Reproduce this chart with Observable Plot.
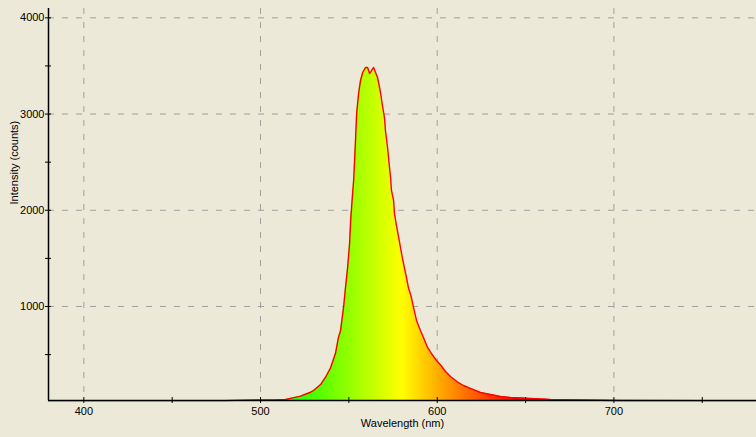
<!DOCTYPE html>
<html>
<head>
<meta charset="utf-8">
<script src="https://cdn.jsdelivr.net/npm/d3@7"></script>
<script src="https://cdn.jsdelivr.net/npm/@observablehq/plot@0.6"></script>
<style>
  html, body { margin: 0; padding: 0; background: #ECE9D8; }
  svg { display: block; }
</style>
</head>
<body>
<div id="chart"></div>
<script>
// Data
const wavelengths = [380, 400, 450, 480, 498, 508, 514.2, 517.5, 522.6, 528.3, 530.0, 534.0, 536.8, 539.6, 542.4, 544.1, 545.3, 547.0, 548.1, 549.3, 550.4, 551.0, 552.1, 552.7, 553.8, 554.4, 555.5, 556.6, 557.8, 559.5, 560.6, 561.7, 562.9, 564.0, 565.1, 566.2, 566.8, 567.9, 569.0, 570.2, 570.7, 571.9, 573.0, 573.6, 574.1, 575.3, 575.8, 576.9, 578.1, 579.8, 580.9, 582.6, 583.7, 585.4, 586.6, 588.3, 590.5, 592.2, 594.5, 596.8, 599.6, 601.9, 604.7, 607.5, 611.5, 614.9, 618.8, 624.5, 630.1, 635.8, 641.4, 652.8, 664.1, 681.1, 703.7, 750, 780];
const counts = [22, 22, 22, 22, 30, 30, 33, 47, 68, 109, 127, 189, 265, 361, 511, 678, 750, 992, 1200, 1408, 1655, 1894, 2174, 2309, 2746, 3006, 3214, 3349, 3432, 3484, 3484, 3421, 3453, 3484, 3432, 3380, 3328, 3224, 3089, 2954, 2829, 2652, 2444, 2341, 2206, 2102, 1966, 1842, 1727, 1551, 1447, 1301, 1197, 1093, 990, 854, 750, 678, 574, 511, 439, 392, 324, 272, 215, 179, 148, 106, 85, 65, 54, 44, 33, 28, 23, 22, 22];

const xMajorTicks = [400, 500, 600, 700];
const xAllTicks = [400, 450, 500, 550, 600, 650, 700, 750];
const yMajorTicks = [1000, 2000, 3000, 4000];
const yAllTicks = [500, 1000, 1500, 2000, 2500, 3000, 3500, 4000];
const xDomain = [380, 780.7];
const yDomain = [23, 4097];
const xLabel = "Wavelength (nm)";
const yLabel = "Intensity (counts)";

// Spectral colour stops (nm -> colour)
const colorStops = [[510, "#00ff00"], [580, "#ffff00"], [645, "#ff0000"]];

const data = wavelengths.map((w, i) => ({w, c: counts[i]}));

const gridStyle = {stroke: "#a0a0a0", strokeOpacity: 1, strokeWidth: 1, strokeDasharray: "6,8"};
const plain = d => String(d);

const plot = Plot.plot({
  width: 756,
  height: 437,
  marginLeft: 48,
  marginRight: 0,
  marginTop: 8,
  marginBottom: 37,
  style: {background: "#ECE9D8", fontFamily: "'Liberation Sans', Arial, sans-serif", fontSize: "11px", color: "#000"},
  x: {domain: xDomain},
  y: {domain: yDomain},
  marks: [
    Plot.gridX(xMajorTicks, gridStyle),
    Plot.gridY(yMajorTicks, gridStyle),
    Plot.areaY(data, {x: "w", y1: yDomain[0], y2: "c", fill: "url(#spectrumGrad)"}),
    Plot.lineY(data, {x: "w", y: "c", stroke: "#ff0000", strokeWidth: 1.4}),
    Plot.ruleX([xDomain[0]], {stroke: "#000", strokeWidth: 1.5}),
    Plot.ruleY([yDomain[0]], {stroke: "#000", strokeWidth: 1.5}),
    Plot.axisX(xAllTicks, {tickSize: 6, dy: -3, tickFormat: () => "", stroke: "#000", label: null}),
    Plot.axisX(xMajorTicks, {tickSize: 0, tickPadding: 7, tickFormat: plain, fill: "#000", label: null}),
    Plot.axisY(yAllTicks, {tickSize: 6, dx: 3, tickFormat: () => "", stroke: "#000", label: null}),
    Plot.axisY(yMajorTicks, {tickSize: 0, tickPadding: 4, tickFormat: plain, fill: "#000", label: null}),
    Plot.text([xLabel], {frameAnchor: "bottom", dy: 26, fill: "#000", fontSize: 11}),
    Plot.text([yLabel], {frameAnchor: "left", rotate: -90, dx: -34, fill: "#000", fontSize: 11})
  ]
});

// Horizontal spectral gradient positioned via the x scale
const xs = plot.scale("x");
const ns = "http://www.w3.org/2000/svg";
const defs = document.createElementNS(ns, "defs");
const grad = document.createElementNS(ns, "linearGradient");
grad.setAttribute("id", "spectrumGrad");
grad.setAttribute("gradientUnits", "userSpaceOnUse");
const gx1 = xs.apply(colorStops[0][0]);
const gx2 = xs.apply(colorStops[colorStops.length - 1][0]);
grad.setAttribute("x1", gx1);
grad.setAttribute("x2", gx2);
grad.setAttribute("y1", 0);
grad.setAttribute("y2", 0);
for (const [w, col] of colorStops) {
  const s = document.createElementNS(ns, "stop");
  s.setAttribute("offset", (xs.apply(w) - gx1) / (gx2 - gx1));
  s.setAttribute("stop-color", col);
  grad.appendChild(s);
}
defs.appendChild(grad);
plot.insertBefore(defs, plot.firstChild);

document.getElementById("chart").appendChild(plot);
</script>
</body>
</html>
